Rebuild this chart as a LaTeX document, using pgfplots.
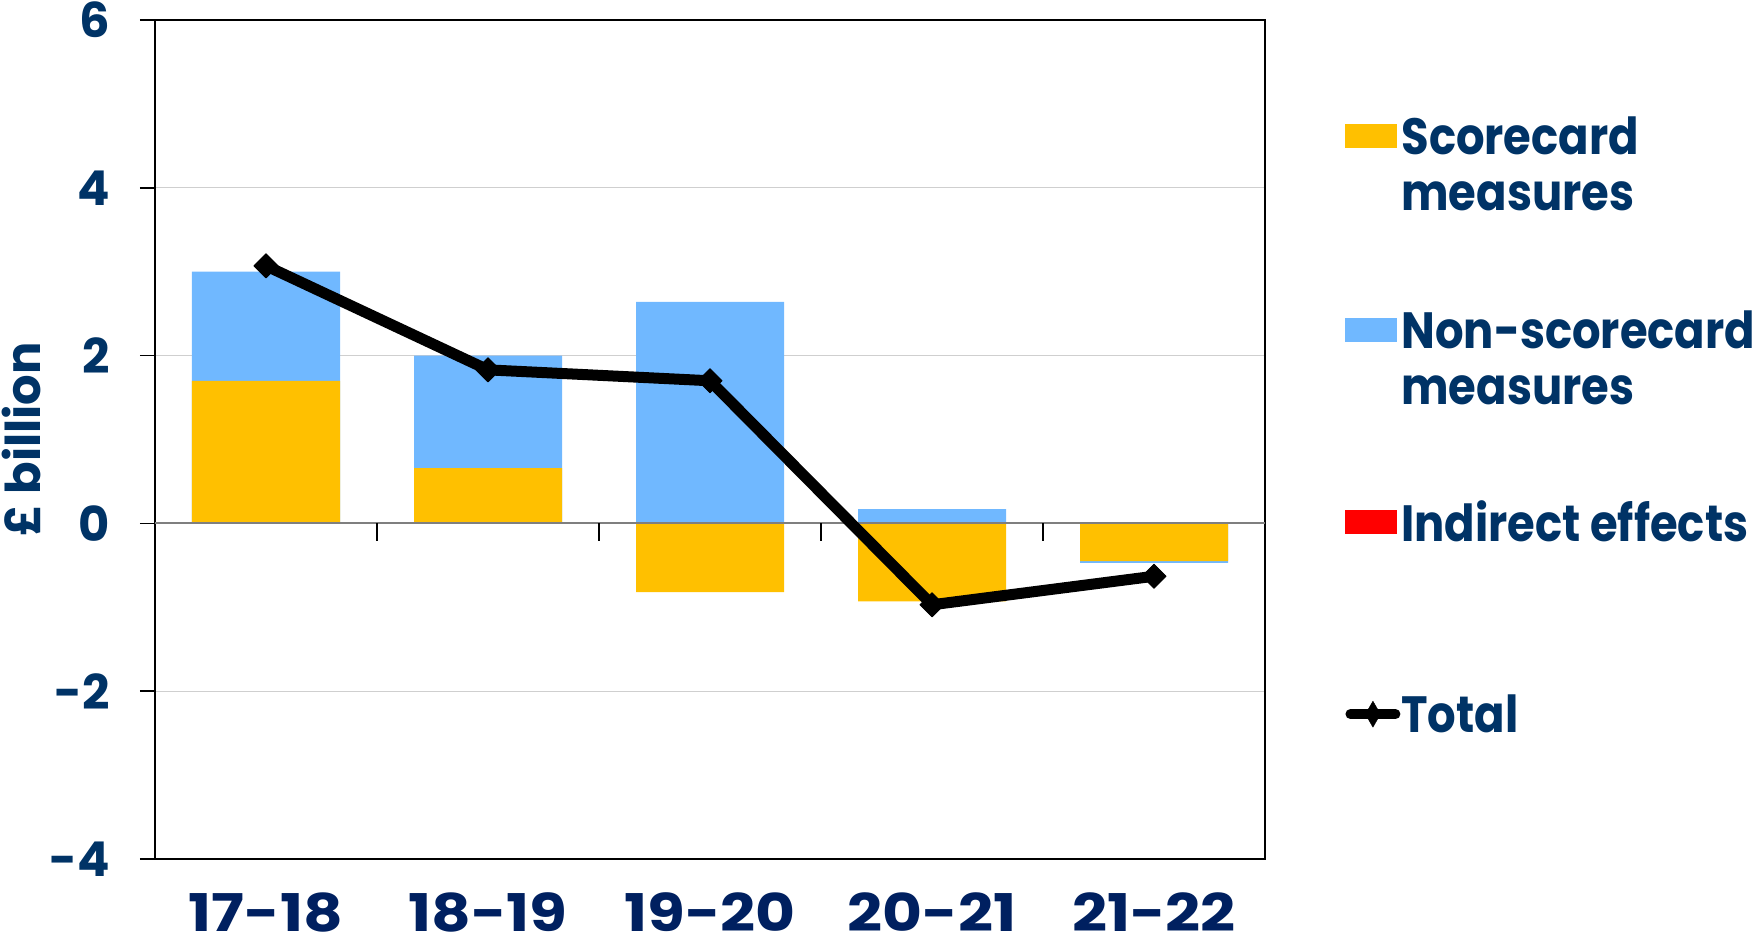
\documentclass[border=0pt]{standalone}
\usepackage{pgfplots}
\pgfplotsset{compat=1.18}
\usepackage{pgfplotstable}
\usepackage{fontspec}
\setmainfont{Poppins}
\newfontfamily\legendfont{Poppins}[FakeStretch=0.88]
\newfontfamily\yearfont{Poppins}[FakeStretch=1.18]

\definecolor{scorecard}{HTML}{FFC000}
\definecolor{nonscore}{HTML}{70B8FF}
\definecolor{indirect}{HTML}{FF0000}
\definecolor{navy}{HTML}{003366}
\definecolor{navyx}{HTML}{002060}
\definecolor{gridgray}{HTML}{CFCFCF}
\definecolor{zerogray}{HTML}{7F7F7F}

% Policy measures by year, £ billion
% base: where the non-scorecard bar starts (scorecard value when both share a sign)
\pgfplotstableread{
x  sc     nsc    base   total
0  1.70   1.30   1.70   3.07
1  0.66   1.34   0.66   1.83
2  -0.82  2.64   0      1.70
3  -0.93  0.17   0     -0.97
4  -0.45  -0.02  -0.45 -0.63
}\measures

\begin{document}
\begin{tikzpicture}
\begin{axis}[
  at={(0pt,0pt)}, anchor=south west,
  scale only axis, width=1110pt, height=839pt,
  xmin=-0.5, xmax=4.5, ymin=-4, ymax=6,
  xtick={0,...,4},
  xticklabels={17-18,18-19,19-20,20-21,21-22},
  ytick={-4,-2,0,2,4,6},
  yticklabels={-4,-2,0,2,4,6},
  ytick pos=left,
  ymajorgrids,
  grid style={color=gridgray, line width=1.2pt},
  axis line style={black, line width=2.5pt},
  tick align=outside,
  major tick length=15pt,
  xtick style={draw=none},
  ytick style={black, line width=1.5pt},
  yticklabel style={font=\fontsize{48}{48}\selectfont\bfseries, text=navy,
                    anchor=east, inner sep=0pt, xshift=-30pt},
  xticklabel style={font=\yearfont\fontsize{52}{52}\selectfont\bfseries, text=navyx,
                    anchor=base, inner sep=0pt, yshift=-57pt},
  ylabel={£ billion},
  every axis y label/.style={at={(axis description cs:-0.1207,0.5)},
                    rotate=90, anchor=center,
                    font=\fontsize{48}{48}\selectfont\bfseries, text=navy},
  legend cell align=left,
  legend style={at={(axis description cs:1.0721,0.944)}, anchor=north west,
                draw=none, fill=none, inner sep=0pt, row sep=0pt, column sep=1pt,
                nodes={inner sep=0pt, align=left, text=navy,
                       font=\legendfont\fontsize{51}{56}\selectfont\bfseries}},
]
% non-scorecard bars, stacked on the scorecard bar where both share a sign
\addplot[ybar, bar width=148pt, bar shift=0pt, fill=nonscore, draw=none, forget plot]
  table[x=x, y expr=\thisrow{base}+\thisrow{nsc}] {\measures};
% scorecard bars from zero
\addplot[ybar, bar width=148pt, bar shift=0pt, fill=scorecard, draw=none, forget plot]
  table[x=x, y=sc] {\measures};

% zero line with category dividers
\draw[zerogray, line width=2pt] (axis cs:-0.5,0) -- (axis cs:4.5,0);
\draw[black, line width=1.5pt] (axis cs:0.5,0) -- ++(0pt,-18pt);
\draw[black, line width=1.5pt] (axis cs:1.5,0) -- ++(0pt,-18pt);
\draw[black, line width=1.5pt] (axis cs:2.5,0) -- ++(0pt,-18pt);
\draw[black, line width=1.5pt] (axis cs:3.5,0) -- ++(0pt,-18pt);

% total
\addplot[black, line width=11pt, line join=round, sharp plot,
         mark=square*, mark size=8.5pt,
         mark options={rotate=45, line width=1pt, fill=black}, forget plot]
  table[x=x, y=total] {\measures};

\addlegendimage{legend image code/.code={\fill[scorecard] (0pt,16.5pt) rectangle (51pt,39.5pt);}}
\addlegendentry[minimum height=194pt]{Scorecard\\measures}
\addlegendimage{legend image code/.code={\fill[nonscore] (0pt,16.5pt) rectangle (51pt,39.5pt);}}
\addlegendentry[minimum height=194pt]{Non-scorecard\\measures}
\addlegendimage{legend image code/.code={\fill[indirect] (0pt,-11.5pt) rectangle (51pt,11.5pt);}}
\addlegendentry[minimum height=134pt]{Indirect effects}
\addlegendimage{legend image code/.code={
    \draw[black, line width=10pt, line cap=round] (5pt,0pt) -- (50pt,0pt);
    \fill[black] (27.5pt,13pt) -- (35pt,0pt) -- (27.5pt,-13pt) -- (20pt,0pt) -- cycle;}}
\addlegendentry[minimum height=250pt]{Total}
\end{axis}
\pgfresetboundingbox
\path[use as bounding box] (-155pt,-91pt) rectangle (1603pt,859pt);
\end{tikzpicture}
\end{document}
